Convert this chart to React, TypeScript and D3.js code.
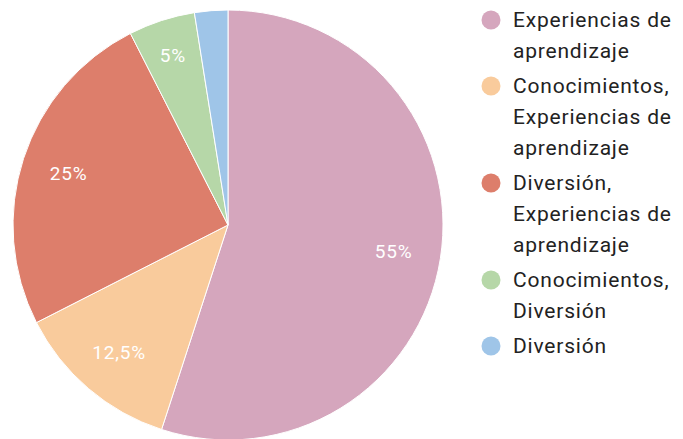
import React from "react";
import * as d3 from "d3";

const categories: string[][] = [
  ["Experiencias de", "aprendizaje"],
  ["Conocimientos,", "Experiencias de", "aprendizaje"],
  ["Diversión,", "Experiencias de", "aprendizaje"],
  ["Conocimientos,", "Diversión"],
  ["Diversión"],
];
const values = [55, 12.5, 25, 5, 2.5];
const sliceLabels = ["55%", "12,5%", "25%", "5%", ""];
const colors = ["#d5a6bd", "#f9cb9c", "#dd7e6b", "#b6d7a8", "#9fc5e8"];

export default function App() {
  const W = 683, H = 439;
  const cx = 228, cy = 225, r = 215;
  const pie = d3.pie<number>().sort(null).value((d) => d);
  const arcs = pie(values);
  const arc = d3.arc<d3.PieArcDatum<number>>().innerRadius(0).outerRadius(r);
  const labelArc = d3.arc<d3.PieArcDatum<number>>().innerRadius(r * 0.78).outerRadius(r * 0.78);
  const smallArc = d3.arc<d3.PieArcDatum<number>>().innerRadius(r * 0.83).outerRadius(r * 0.83);

  const lineH = 31;
  const gap = 35;
  let y = 20;
  const legendItems = categories.map((lines, i) => {
    const startY = y;
    y += (lines.length - 1) * lineH + gap;
    return { lines, startY, i };
  });

  return (
    <svg width={W} height={H} style={{ position: "absolute", left: 0, top: 0, background: "#fff" }}>
      <g transform={`translate(${cx},${cy})`}>
        {arcs.map((a, i) => (
          <path key={i} d={arc(a) || ""} fill={colors[i]} stroke="#fff" strokeWidth={1} />
        ))}
        {arcs.map((a, i) => {
          const small = a.endAngle - a.startAngle < 0.4;
          const [x, yy] = (small ? smallArc : labelArc).centroid(a);
          return (
            <text key={"l" + i} x={x} y={yy} fill="#fff" fontFamily="Roboto, sans-serif" fontSize={19}
              letterSpacing={0.8} textAnchor="middle" dominantBaseline="central">
              {sliceLabels[i]}
            </text>
          );
        })}
      </g>
      {legendItems.map(({ lines, startY, i }) => (
        <g key={"g" + i}>
          <circle cx={491} cy={startY} r={9.5} fill={colors[i]} />
          {lines.map((t, j) => (
            <text key={j} x={513} y={startY + j * lineH} fill="#222" fontFamily="Roboto, sans-serif"
              fontSize={21} letterSpacing={0.8} dominantBaseline="central">
              {t}
            </text>
          ))}
        </g>
      ))}
    </svg>
  );
}
